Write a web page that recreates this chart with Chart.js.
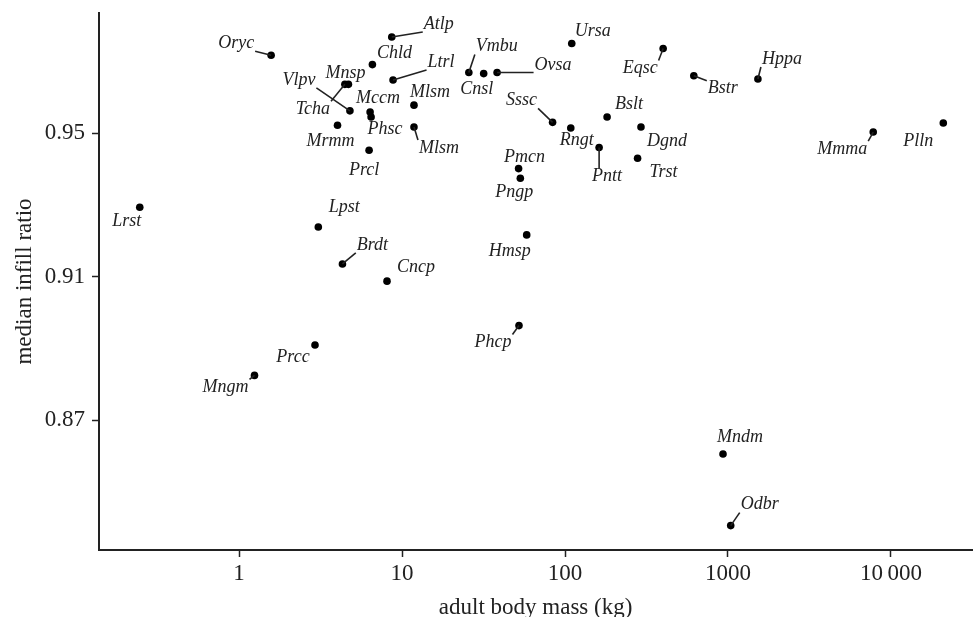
<!DOCTYPE html>
<html>
<head>
<meta charset="utf-8">
<script src="https://cdn.jsdelivr.net/npm/chart.js@4.4.1/dist/chart.umd.min.js"></script>
<style>
  html, body { margin: 0; padding: 0; background: #fff; }
  #wrap { width: 976px; height: 617px; }
</style>
</head>
<body>
<div id="wrap"><canvas id="infill" width="976" height="617"></canvas></div>
<script>
// taxon codes, adult body mass (kg) and median infill ratio
var taxa = ['Lrst','Oryc','Atlp','Chld','Ltrl','Tcha','Mnsp','Vlpv','Mccm','Phsc',
            'Mrmm','Prcl','Mlsm','Mlsm','Vmbu','Cnsl','Ovsa','Ursa','Sssc','Rngt',
            'Pntt','Bslt','Pmcn','Pngp','Eqsc','Bstr','Hppa','Dgnd','Trst','Mmma',
            'Plln','Lpst','Prcc','Mngm','Brdt','Cncp','Hmsp','Phcp','Mndm','Odbr'];
var bodyMass = [0.246, 1.574, 8.65, 6.58, 8.81, 4.46, 4.69, 4.79, 6.37, 6.46,
                4.02, 6.28, 11.84, 11.84, 25.7, 31.7, 38.3, 110, 83.9, 108.5,
                161.9, 181.2, 51.9, 53.2, 400, 617, 1526, 292.5, 278.8, 7783,
                20940, 3.065, 2.925, 1.244, 4.31, 8.09, 58.2, 52.2, 932, 1039];
var infillRatio = [0.9294, 0.9718, 0.9769, 0.9692, 0.9649, 0.9637, 0.9637, 0.9563, 0.9560, 0.9546,
                   0.9523, 0.9453, 0.9579, 0.9518, 0.9670, 0.9667, 0.9670, 0.9751, 0.9531, 0.9515,
                   0.9461, 0.9546, 0.9402, 0.9375, 0.9737, 0.9661, 0.9652, 0.9518, 0.9431, 0.9504,
                   0.9529, 0.9239, 0.8910, 0.8825, 0.9136, 0.9088, 0.9217, 0.8964, 0.8606, 0.8406];
var xTicks = [1, 10, 100, 1000, 10000];
var yTicks = [0.87, 0.91, 0.95];

// repelled label placement: pixel offset from the point, and whether a segment is drawn
var labelPos = [[-13,14,0],[-35,-12,1],[47,-13,1],[22,-11,0],[48,-18,1],[-32,25,1],[-3,-11,0],[-51,-31,1],[8,-14,0],[14,12,0],
                [-7,16,0],[-5,20,0],[16,-13,0],[25,21,1],[28,-26,1],[-7,16,0],[56,-7,1],[21,-12,0],[-31,-22,1],[6,12,0],
                [8,29,1],[22,-13,0],[6,-11,0],[-6,14,0],[-23,20,1],[29,13,1],[24,-20,1],[26,14,0],[26,14,0],[-31,17,1],
                [-25,18,0],[26,-20,0],[-22,12,0],[-29,12,1],[30,-19,1],[29,-14,0],[-17,16,0],[-26,17,1],[17,-17,0],[29,-21,1]];

var INK = '#222';
var SERIF = '"Liberation Serif", "Times New Roman", serif';

function fmtMass(v){
  var s = String(v);
  return v >= 10000 ? s.replace(/\B(?=(\d{3})+(?!\d))/g, '\u2009') : s;
}

var taxonLabels = {
  id: 'taxonLabels',
  afterDatasetsDraw: function(chart){
    var ctx = chart.ctx, xs = chart.scales.x, ys = chart.scales.y;
    ctx.save();
    ctx.font = 'italic 18px ' + SERIF;
    ctx.fillStyle = INK; ctx.strokeStyle = INK; ctx.lineWidth = 1.6;
    ctx.textAlign = 'center'; ctx.textBaseline = 'middle';
    taxa.forEach(function(name, i){
      var px = xs.getPixelForValue(bodyMass[i]), py = ys.getPixelForValue(infillRatio[i]);
      var lp = labelPos[i], cx = px + lp[0], cy = py + lp[1];
      if (lp[2]) {
        var hw = ctx.measureText(name).width / 2 + 1, hh = 8;
        var ex = Math.max(cx - hw, Math.min(px, cx + hw));
        var ey = Math.max(cy - hh, Math.min(py, cy + hh));
        ctx.beginPath(); ctx.moveTo(px, py); ctx.lineTo(ex, ey); ctx.stroke();
      }
      ctx.fillText(name, cx, cy);
    });
    ctx.restore();
  }
};

new Chart(document.getElementById('infill').getContext('2d'), {
  type: 'scatter',
  data: {
    datasets: [{
      data: bodyMass.map(function(m, i){ return {x: m, y: infillRatio[i]}; }),
      pointRadius: 3.8, pointHoverRadius: 3.8,
      backgroundColor: '#000', borderWidth: 0
    }]
  },
  options: {
    responsive: false, animation: false, devicePixelRatio: 1,
    layout: { padding: { top: 13, right: 1, bottom: 0, left: 0 } },
    plugins: { legend: { display: false }, tooltip: { enabled: false } },
    scales: {
      x: {
        type: 'logarithmic', min: 0.1383, max: 31500,
        afterBuildTicks: function(s){ s.ticks = xTicks.map(function(v){ return {value: v}; }); },
        afterFit: function(s){ s.height = 67; s.paddingLeft = 0; s.paddingRight = 0; },
        ticks: { color: INK, font: { family: SERIF, size: 23 }, padding: 3, maxRotation: 0, autoSkip: false,
                 callback: function(v){ return fmtMass(v); } },
        grid: { drawOnChartArea: false, drawTicks: true, tickLength: 7, color: INK, tickWidth: 1.5 },
        border: { display: true, color: INK, width: 2 },
        title: { display: true, text: 'adult body mass (kg)', color: INK,
                 font: { family: SERIF, size: 23 }, padding: { top: 0, bottom: -5 } }
      },
      y: {
        min: 0.8338, max: 0.9836,
        afterBuildTicks: function(s){ s.ticks = yTicks.map(function(v){ return {value: v}; }); },
        afterFit: function(s){ s.width = 99; s.paddingTop = 0; s.paddingBottom = 0; },
        ticks: { color: INK, font: { family: SERIF, size: 23 }, padding: 7,
                 callback: function(v){ return v.toFixed(2); } },
        grid: { drawOnChartArea: false, drawTicks: true, tickLength: 7, color: INK, tickWidth: 1.5 },
        border: { display: true, color: INK, width: 2 },
        title: { display: true, text: 'median infill ratio', color: INK,
                 font: { family: SERIF, size: 23 }, padding: { top: 11, bottom: 0 } }
      }
    }
  },
  plugins: [taxonLabels]
});
</script>
</body>
</html>
